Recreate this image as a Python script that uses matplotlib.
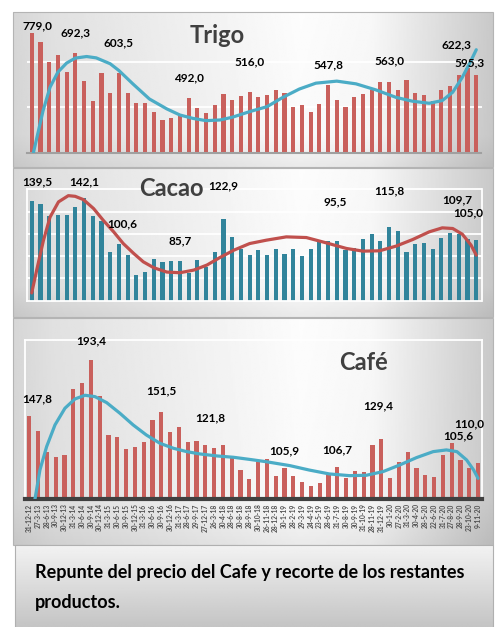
import numpy as np
import matplotlib
matplotlib.use("Agg")
import matplotlib.pyplot as plt

plt.rcParams['font.family'] = ['Lato', 'DejaVu Sans']

# === DATA ===
trigo = [779.0, 739, 650, 683, 605, 692.3, 568, 480, 603, 515,
         603.5, 512, 469, 469, 429, 395, 404, 420, 492.0, 446,
         425, 459, 511, 483, 502, 516.0, 494, 506, 527, 515,
         450, 462, 431, 466, 547.8, 484, 450, 497, 509, 526,
         561, 563.0, 526, 569, 515, 503, 480, 527, 545, 591,
         622.3, 595.3]
trigo_trend_x = [0.2, 1.3, 2.1, 3, 4, 5, 6.3, 7.4, 9, 10, 11.6, 13.5, 15.5, 17, 18.5, 20, 21.6,
                 23, 25, 27, 28.8, 30.7, 32.6, 35, 37.2, 39.5, 41.8, 43.7, 45.6, 47.1, 48.3,
                 49.4, 50.4, 51]
trigo_trend_y = [250, 435, 539, 606, 646, 668, 675, 669, 643, 613, 554, 487, 443, 416, 401, 391, 394,
                 406, 431, 453, 494, 531, 557, 566, 554, 527, 494, 477, 468, 480, 517,
                 583, 657, 705]
trigo_labels = [0, 5, 10, 18, 25, 34, 41, 50, 51]

cacao = [139.5, 136.6, 125.8, 127, 127, 133.9, 142.1, 126.1, 121.3, 93.3,
         100.6, 90.9, 73, 76, 87.3, 84.9, 85.2, 85.7, 75, 86.4,
         80.4, 93.3, 122.9, 107.6, 96, 90.9, 95.4, 90.9, 96, 91.5,
         96, 90, 96, 104.3, 103.4, 103.7, 95.5, 97.2, 105.2, 109.7,
         103.4, 115.8, 112.7, 93.9, 101.3, 101.9, 96, 106.1, 110.6, 109.7,
         105.0, 104.3]
cacao_trend_x = [0, 0.57, 1.34, 2.1, 3.07, 4.2, 4.98, 5.94, 7.1, 8.2, 9.4, 10.5, 11.7, 12.8, 14,
                 15.5, 17, 18.6, 20.1, 21.6, 23.2, 25, 26.9, 29.2, 31.5, 33.8, 36.1, 38, 39.9,
                 41.8, 43.7, 45.6, 47.1, 48.3, 49.4, 50.4, 51]
cacao_trend_y = [57, 77.5, 104, 125, 138.7, 144.3, 143.7, 140.7, 132.7, 122.2, 111.8, 101.3, 92.4,
                 84.9, 79.6, 75.7, 75.1, 77.5, 82, 88.8, 95.4, 101.3, 104.3, 107.3, 106.7, 101.9,
                 96.9, 94.5, 94.8, 99, 104.9, 111.8, 115.4, 114.8, 109.7, 99.9, 90.9]
cacao_labels = [0, 6, 10, 17, 22, 36, 41, 49, 50]

cafe = [147.8, 136, 118.9, 114.3, 116.2, 169.8, 174.9, 193.4, 164.3, 132.5,
        130.6, 120.8, 123, 126.8, 144.7, 151.5, 134.9, 138.8, 126.8, 127.6,
        124.1, 121.8, 124.6, 114.8, 104.2, 96.9, 110.7, 112.6, 99, 105.9,
        99, 94.4, 91.2, 93.1, 100.7, 106.7, 97.1, 103.4, 102, 124.3,
        129.4, 97.4, 110.7, 118.4, 105.4, 100.1, 98.5, 116.2, 125.7, 112.1,
        105.6, 110.0]
cafe_trend_x = [0.64, 1.21, 1.97, 2.92, 4.05, 5.19, 6.33, 7.46, 8.79, 10.3, 11.8, 13.3, 14.85,
                16.4, 17.9, 19.4, 21.3, 23.2, 25, 26.9, 29.6, 31.8, 34.1, 36.4, 38.3, 40.2,
                42.1, 44, 45.9, 47.4, 48.6, 49.7, 50.5, 51]
cafe_trend_y = [80, 104, 123, 140.7, 154.3, 161.9, 164.9, 163.8, 158.9, 150.2, 140.7, 132.5, 125.7,
                121.6, 118.9, 117, 115.4, 114.3, 112.6, 110.7, 107.5, 103.9, 100.7, 99.3, 99.6,
                102.6, 108, 114, 118.9, 120.3, 118.9, 112.1, 103.9, 97.1]
cafe_labels = [0, 7, 15, 21, 29, 35, 40, 50, 51]
cafe_dates = ["31-12-12", "27-3-13", "28-6-13", "30-9-13", "30-12-13", "31-3-14", "30-6-14",
              "30-9-14", "30-12-14", "31-3-15", "30-6-15", "30-9-15", "30-12-15", "31-3-16",
              "30-6-16", "30-9-16", "30-12-16", "31-3-17", "28-6-17", "29-9-17", "27-12-17",
              "26-3-18", "30-4-18", "28-6-18", "30-8-18", "28-9-18", "30-10-18", "26-11-18",
              "28-12-18", "30-1-19", "28-2-19", "29-3-19", "24-4-19", "23-5-19", "28-6-19",
              "31-7-19", "30-8-19", "30-9-19", "31-10-19", "28-11-19", "31-12-19", "30-1-20",
              "27-2-20", "31-3-20", "30-4-20", "28-5-20", "22-6-20", "31-7-20", "27-8-20",
              "28-9-20", "23-10-20", "9-11-20"]

caption_lines = ["Repunte del precio del Cafe y recorte de los restantes", "productos."]

# label offsets in pixels (dx, dy) from the bar top
trigo_off = [(6, 7), (0, 20), (0, 30), (0, 20), (0, 31), (0, 20), (0, 21), (-11, 24), (-7, 12)]
cacao_off = [(6, 19), (0, 16), (3, 20), (0, 20), (0, 34), (-10, 48), (0, 37), (-2, 34), (1, 27)]
cafe_off = [(8, 17), (0, 19), (0, 21), (-4, 30), (0, 17), (0, 17), (-3, 33), (-11, 32), (-9, 39)]

RED = '#c9605c'
BLUE = '#4bacc6'
TEAL = '#31849b'
DARKRED = '#c0504d'
W, H = 499, 627

fig = plt.figure(figsize=(W / 100, H / 100), dpi=100)
fig.patch.set_facecolor('white')

# background panels with gradient
bg = fig.add_axes([0, 0, 1, 1])
bg.set_xlim(0, W)
bg.set_ylim(H, 0)
bg.axis('off')
hx = np.interp(np.linspace(0, 1, 300), [0, 0.08, 0.6, 0.75, 1], [0.84, 0.88, 0.99, 0.97, 0.79])
for top, bottom in [(12, 167), (168, 317), (318, 545)]:
    vy = np.interp(np.linspace(0, 1, 60), [0, 0.8, 1], [1.0, 0.99, 0.93])
    grad = vy[:, None] * hx[None, :]
    bg.imshow(grad, cmap='gray', vmin=0, vmax=1, extent=(13, 493, bottom, top), aspect='auto', zorder=0)
    bg.add_patch(plt.Rectangle((13, top), 480, bottom - top, fill=False, ec='#b4b4b4', lw=0.8, zorder=1))
vshade = np.interp(np.linspace(0, 1, 100), [0, 1], [0.95, 0.77])
bg.imshow(np.tile(vshade[:, None], (1, 10)), cmap='gray', vmin=0, vmax=1,
          extent=(15, 493, 627, 545), aspect='auto', zorder=2)
bg.add_patch(plt.Rectangle((15, 545), 478, 90, fill=False, ec='#b0b0b0', lw=0.8, zorder=3))
for line, base in zip(caption_lines, [578, 608]):
    bg.text(35, base, line, fontsize=13, fontweight='bold', color='black', va='baseline', zorder=4)


def px_axes(left, top, right, bottom):
    return fig.add_axes([left / W, 1 - bottom / H, (right - left) / W, (bottom - top) / H])


def fmt(v):
    return f"{v:.1f}".replace('.', ',')


def draw(ax, vals, tx, ty, bar_color, line_color, labels, offs):
    x = np.arange(len(vals))
    ax.bar(x, vals, width=0.48, color=bar_color, zorder=2)
    ax.plot(tx, ty, color=line_color, lw=2.3, zorder=3, solid_capstyle='round')
    for i, (dx, dy) in zip(labels, offs):
        ax.annotate(fmt(vals[i]), xy=(i, vals[i]), xytext=(dx, dy), textcoords='offset pixels',
                    ha='center', va='center', fontsize=8.5, fontweight='bold', color='black',
                    annotation_clip=False, zorder=5)
    ax.set_facecolor('none')
    ax.set_xticks([])
    ax.set_yticks([])


# Trigo
ax1 = px_axes(26.5, 17, 481.5, 152.5)
draw(ax1, trigo, trigo_trend_x, trigo_trend_y, RED, BLUE, trigo_labels, trigo_off)
ax1.set_xlim(-0.6, 51.6)
ax1.set_ylim(250, 850)
for g in [450, 650]:
    ax1.axhline(g, color='white', lw=1.3, zorder=1)
for s in ['left', 'right', 'top']:
    ax1.spines[s].set_visible(False)
ax1.spines['bottom'].set_color('#a0a0a0')
ax1.spines['bottom'].set_linewidth(1.5)
ax1.text(0.42, 0.86, "Trigo", transform=ax1.transAxes, fontsize=17, fontweight='bold',
         color='#404040', ha='center', va='center')

# Cacao
ax2 = px_axes(26.5, 189.3, 481.5, 300.7)
draw(ax2, cacao, cacao_trend_x, cacao_trend_y, TEAL, DARKRED, cacao_labels, cacao_off)
ax2.set_xlim(-0.6, 51.6)
ax2.set_ylim(50, 150)
for g in [70, 90, 110, 130]:
    ax2.axhline(g, color='white', lw=1.3, zorder=1)
for s in ax2.spines.values():
    s.set_color('white')
    s.set_linewidth(1.3)
ax2.text(0.318, 1.01, "Cacao", transform=ax2.transAxes, fontsize=17, fontweight='bold',
         color='#404040', ha='center', va='center')

# Cafe
ax3 = px_axes(24.9, 340, 482, 499.3)
draw(ax3, cafe, cafe_trend_x, cafe_trend_y, RED, BLUE, cafe_labels, cafe_off)
ax3.set_xlim(-0.5, 51.45)
ax3.set_ylim(80, 210)
for s in ['left', 'right', 'top']:
    ax3.spines[s].set_color('white')
    ax3.spines[s].set_linewidth(1.3)
ax3.spines['bottom'].set_color('#404040')
ax3.spines['bottom'].set_linewidth(3)
ax3.set_xticks(np.arange(len(cafe_dates)))
ax3.set_xticklabels(cafe_dates, rotation=90, fontsize=4.8, fontweight='bold', color='#505050')
ax3.tick_params(axis='x', length=0, pad=3)
ax3.text(0.74, 0.86, "Café", transform=ax3.transAxes, fontsize=17, fontweight='bold',
         color='#404040', ha='center', va='center')

fig.savefig("out.png", dpi=100)
